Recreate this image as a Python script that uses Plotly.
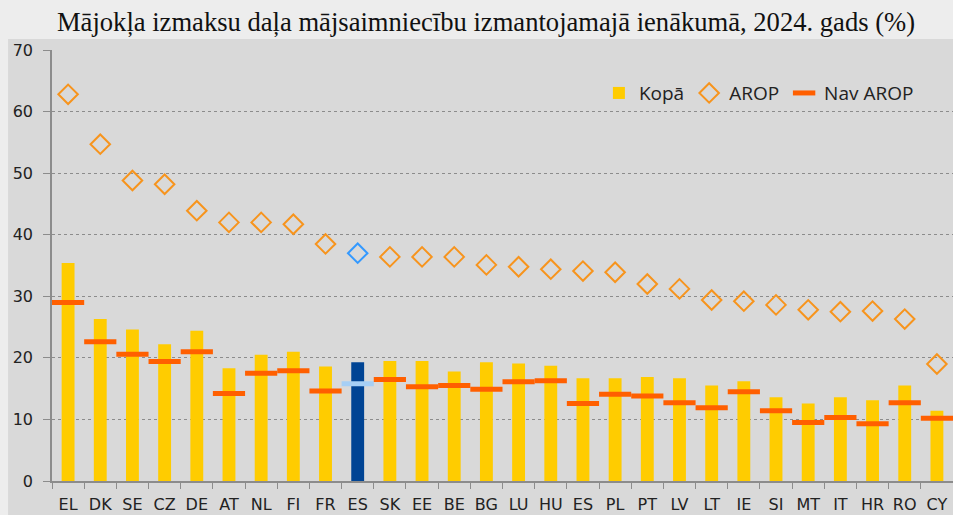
import plotly.graph_objects as go

countries = ["EL","DK","SE","CZ","DE","AT","NL","FI","FR","ES","SK","EE","BE","BG",
             "LU","HU","ES","PL","PT","LV","LT","IE","SI","MT","IT","HR","RO","CY"]
kopa = [35.4,26.3,24.6,22.2,24.4,18.3,20.5,21.0,18.6,19.3,19.5,19.5,17.8,19.3,
        19.1,18.7,16.7,16.7,16.9,16.7,15.5,16.2,13.6,12.6,13.6,13.1,15.5,11.4]
arop = [62.8,54.7,48.8,48.2,43.9,42.0,42.0,41.7,38.5,37.0,36.4,36.4,36.4,35.1,
        34.8,34.4,34.1,33.9,32.0,31.2,29.4,29.2,28.6,27.8,27.5,27.6,26.3,19.0]
nav_arop = [29.0,22.6,20.6,19.4,21.0,14.2,17.5,17.9,14.6,15.8,16.5,15.3,15.5,14.9,
            16.1,16.3,12.6,14.1,13.8,12.7,11.9,14.5,11.4,9.5,10.3,9.3,12.7,10.2]
highlight_index = 9  # shown in blue

xpos = list(range(len(countries)))
bar_colors = ["#004494" if i == highlight_index else "#FFCC00" for i in xpos]
dia_colors = ["#3399FF" if i == highlight_index else "#F7941D" for i in xpos]
dash_colors = ["#A6CFF5" if i == highlight_index else "#FF5F00" for i in xpos]

fig = go.Figure()
fig.add_trace(go.Bar(x=xpos, y=kopa, name="Kopā", width=0.4,
                     marker=dict(color=bar_colors, line=dict(width=0))))
fig.add_trace(go.Scatter(x=xpos, y=arop, name="AROP", mode="markers",
                         marker=dict(symbol="diamond-open", size=15,
                                     color=dia_colors,
                                     line=dict(color=dia_colors, width=2))))
fig.add_trace(go.Scatter(x=xpos, y=nav_arop, name="Nav AROP", mode="markers",
                         marker=dict(symbol="line-ew", size=23,
                                     line=dict(color=dash_colors, width=5))))

fig.add_shape(type="rect", xref="paper", yref="paper",
              x0=-0.0488, x1=1.01, y0=-0.08, y1=1.0255,
              fillcolor="#D9D9D9", line=dict(width=0), layer="below")

fig.update_layout(
    width=953, height=515,
    margin=dict(l=52, r=0, t=50, b=34),
    paper_bgcolor="#EDEDED", plot_bgcolor="#D9D9D9",
    title=dict(text="Mājokļa izmaksu daļa mājsaimniecību izmantojamajā ienākumā, 2024. gads (%)",
               x=0.51, xref="container", xanchor="center", y=0.957, yanchor="middle",
               font=dict(family="Liberation Serif", size=26.6, color="#111111")),
    showlegend=True,
    legend=dict(orientation="h", x=0.607, y=0.90, xanchor="left", yanchor="middle",
                bgcolor="rgba(0,0,0,0)", font=dict(family="Open Sans", size=19, color="#222222"),
                itemwidth=30, traceorder="normal"),
    font=dict(family="DejaVu Sans", size=14, color="#333333"),
)
fig.update_xaxes(range=[-0.5, len(countries) - 0.5], tickmode="array",
                 tickvals=xpos, ticktext=countries, ticks="",
                 showline=True, linecolor="#8C8C8C", linewidth=1.5,
                 showgrid=False, zeroline=False, ticklabelstandoff=8,
                 tickfont=dict(family="DejaVu Sans", size=16, color="#222222"),
                 minor=dict(ticks="outside", tick0=-0.5, dtick=1, ticklen=6,
                            tickcolor="#8C8C8C", showgrid=False))
fig.update_yaxes(range=[0, 70], tickmode="linear", tick0=0, dtick=10,
                 showline=True, linecolor="#8C8C8C", linewidth=1.5,
                 ticks="outside", ticklen=7, tickcolor="#8C8C8C",
                 showgrid=True, gridcolor="#8C8C8C", griddash="dot", gridwidth=1,
                 zeroline=False, ticklabelstandoff=7,
                 tickfont=dict(family="DejaVu Sans", size=16, color="#222222"))

fig.write_html("out.html", config={"displayModeBar": False},
               post_script="document.body.style.margin='0';document.body.style.overflow='hidden';")
